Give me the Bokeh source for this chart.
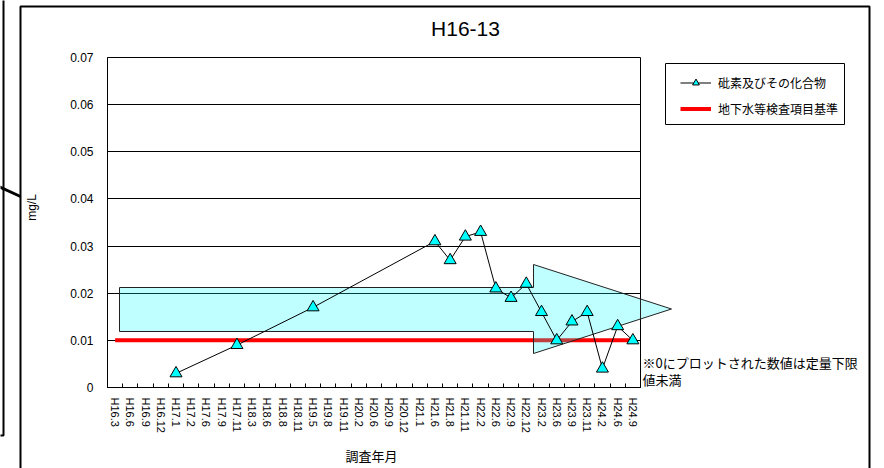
import math
from bokeh.plotting import figure
from bokeh.models import (Range1d, FixedTicker, CustomJSTickFormatter, BoxAnnotation,
                          Label, Legend, LegendItem, Arrow)
from bokeh.embed import file_html
from bokeh.resources import INLINE

# ---------------- data ----------------
categories = ["H16.3", "H16.6", "H16.9", "H16.12", "H17.1", "H17.2", "H17.6", "H17.9",
              "H17.11", "H18.3", "H18.6", "H18.8", "H18.11", "H19.5", "H19.8", "H19.11",
              "H20.2", "H20.6", "H20.9", "H20.12", "H21.1", "H21.6", "H21.8", "H21.11",
              "H22.2", "H22.6", "H22.9", "H22.12", "H23.2", "H23.6", "H23.9", "H23.11",
              "H24.2", "H24.6", "H24.9"]
arsenic = [None, None, None, None, 0.003, None, None, None,
           0.009, None, None, None, None, 0.017, None, None,
           None, None, None, None, None, 0.031, 0.027, 0.032,
           0.033, 0.021, 0.019, 0.022, 0.016, 0.010, 0.014, 0.016,
           0.004, 0.013, 0.010]
standard = [0.01, 0.01, 0.01, 0.01, 0.01, 0.01, 0.01, 0.01,
            0.01, 0.01, 0.01, 0.01, 0.01, 0.01, 0.01, 0.01,
            0.01, 0.01, 0.01, 0.01, 0.01, 0.01, 0.01, 0.01,
            0.01, 0.01, 0.01, 0.01, 0.01, 0.01, 0.01, 0.01,
            0.01, 0.01, 0.01]
y_ticks = [0, 0.01, 0.02, 0.03, 0.04, 0.05, 0.06, 0.07]
title_text = "H16-13"
series_name = "砒素及びその化合物"
standard_name = "地下水等検査項目基準"
x_title = "調査年月"
y_title = "mg/L"
note_lines = ["※0にプロットされた数値は定量下限", "値未満"]

# ---------------- geometry (page pixels) ----------------
W, H = 884, 468
FL, FR, FT, FB = 107, 640, 57, 387
X0, X1 = -0.5, len(categories) - 0.5
Y0, Y1 = y_ticks[0], y_ticks[-1]


def dx(px):
    return X0 + (px - FL) * (X1 - X0) / (FR - FL)


def dy(py):
    return Y0 + (FB - py) * (Y1 - Y0) / (FB - FT)


arrow_px = [(119, 287), (533, 287), (533, 264), (671, 308.5), (533, 353), (533, 331), (119, 331)]
ARROW_FILL = "#00ffff"
ARROW_ALPHA = 0.25
ARROW_LINE = "#222222"
CJK = "Noto Sans CJK JP"
LAT = "Liberation Sans"

# ---------------- main chart ----------------
p = figure(width=W, height=H, x_range=Range1d(X0, X1), y_range=Range1d(Y0, Y1),
           output_backend="svg", toolbar_location=None, title=None,
           min_border_left=FL, min_border_right=W - FR, min_border_top=FT,
           min_border_bottom=H - FB)
p.styles = {"position": "absolute", "left": "0px", "top": "0px", "z-index": "0"}
p.background_fill_color = "white"
p.border_fill_color = "white"
p.outline_line_color = "black"
p.outline_line_width = 1

p.xgrid.visible = False
p.ygrid.grid_line_color = "black"
p.ygrid.grid_line_width = 1
p.ygrid.grid_line_alpha = 1

xa = p.xaxis[0]
xa.ticker = FixedTicker(ticks=list(range(len(categories))),
                        minor_ticks=[i - 0.5 for i in range(len(categories) + 1)])
xa.formatter = CustomJSTickFormatter(args=dict(labels=categories),
                                     code="const i = Math.round(tick); return (i >= 0 && i < labels.length) ? labels[i] : '';")
xa.major_label_orientation = "vertical"
xa.major_tick_in = 0
xa.major_tick_out = 0
xa.minor_tick_in = 4
xa.minor_tick_out = 0
xa.minor_tick_line_color = "black"
xa.minor_tick_line_width = 1
xa.axis_line_color = "black"
xa.major_label_standoff = 10
xa.major_label_text_font = LAT
xa.major_label_text_font_size = "11px"
xa.major_label_text_color = "black"

ya = p.yaxis[0]
ya.ticker = FixedTicker(ticks=y_ticks)
ya.formatter = CustomJSTickFormatter(code="return tick == 0 ? '0' : tick.toFixed(2);")
ya.major_tick_in = 0
ya.major_tick_out = 0
ya.minor_tick_in = 0
ya.minor_tick_out = 0
ya.axis_line_color = "black"
ya.major_label_standoff = 14
ya.major_label_text_font = LAT
ya.major_label_text_font_size = "12px"
ya.major_label_text_color = "black"

idx = list(range(len(categories)))
p.line(idx, standard, line_color="#ff0000", line_width=4)

p.patch([dx(x) for x, _ in arrow_px], [dy(y) for _, y in arrow_px],
        fill_color=ARROW_FILL, fill_alpha=ARROW_ALPHA, line_color=ARROW_LINE, line_width=1)

sx = [i for i, v in zip(idx, arsenic) if v is not None]
sy = [v for v in arsenic if v is not None]
p.line(sx, sy, line_color="black", line_width=1)
p.scatter(sx, sy, marker="triangle", size=12, fill_color="#00ffff", line_color="black", line_width=1)

# ---------------- overlay (page decorations) ----------------
q = figure(width=W, height=H, x_range=Range1d(0, W), y_range=Range1d(H, 0),
           x_axis_type=None, y_axis_type=None, output_backend="svg",
           toolbar_location=None, title=None, min_border=0)
q.styles = {"position": "absolute", "left": "0px", "top": "0px", "z-index": "1"}
q.background_fill_color = None
q.border_fill_color = None
q.outline_line_color = None

# arrow tip outside the plot frame
ht, tip, hb = arrow_px[2], arrow_px[3], arrow_px[4]
y_top = ht[1] + (FR - ht[0]) * (tip[1] - ht[1]) / (tip[0] - ht[0])
y_bot = hb[1] + (FR - hb[0]) * (tip[1] - hb[1]) / (tip[0] - hb[0])
q.patch([FR, tip[0], FR], [y_top, tip[1], y_bot],
        fill_color=ARROW_FILL, fill_alpha=ARROW_ALPHA, line_color=ARROW_LINE, line_width=1)

# outer chart border and neighbouring-chart fragments
q.add_layout(BoxAnnotation(left=20, right=869, top=6, bottom=480,
                           fill_alpha=0, line_color="black", line_alpha=1, line_width=2))
q.add_layout(BoxAnnotation(left=-20, right=3, top=-20, bottom=435,
                           fill_alpha=0, line_color="black", line_alpha=1, line_width=2))
q.add_layout(Arrow(x_start=-2, y_start=186, x_end=20, y_end=196, end=None,
                   line_color="black", line_width=3))

# titles
q.add_layout(Label(x=465, y=28, text=title_text, text_font=LAT, text_font_size="21px",
                   text_color="black", text_align="center", text_baseline="middle"))
q.add_layout(Label(x=31, y=207, text=y_title, angle=math.pi / 2, text_font=LAT,
                   text_font_size="12px", text_color="black", text_align="center",
                   text_baseline="middle"))
q.add_layout(Label(x=371, y=455, text=x_title, text_font=CJK, text_font_size="13px",
                   text_color="black", text_align="center", text_baseline="middle"))
for k, line in enumerate(note_lines):
    q.add_layout(Label(x=642, y=362 + 17 * k, text=line, text_font=CJK, text_font_size="13px",
                       text_color="black", text_align="left", text_baseline="middle"))

# legend (sample renderers hold a single NaN so only their legend glyphs show)
q.add_layout(BoxAnnotation(left=665, right=844, top=63, bottom=124,
                           fill_color="white", fill_alpha=1, line_color="black",
                           line_alpha=1, line_width=1))
nan = [float("nan")]
lr = q.line(nan, nan, line_color="black", line_width=1)
sr = q.scatter(nan, nan, marker="triangle", fill_color="#00ffff", line_color="black", line_width=1)
rr = q.line(nan, nan, line_color="#ff0000", line_width=4)
legend = Legend(items=[LegendItem(label=series_name, renderers=[lr, sr]),
                       LegendItem(label=standard_name, renderers=[rr])],
                location=(674, H - 123), orientation="vertical",
                padding=6, spacing=9, margin=0,
                glyph_width=31, glyph_height=17, label_height=17, label_standoff=7,
                label_text_font=CJK, label_text_font_size="12px", label_text_color="black",
                border_line_alpha=0, background_fill_alpha=0)
q.add_layout(legend)

open("out.html", "w").write(file_html([p, q], INLINE))
